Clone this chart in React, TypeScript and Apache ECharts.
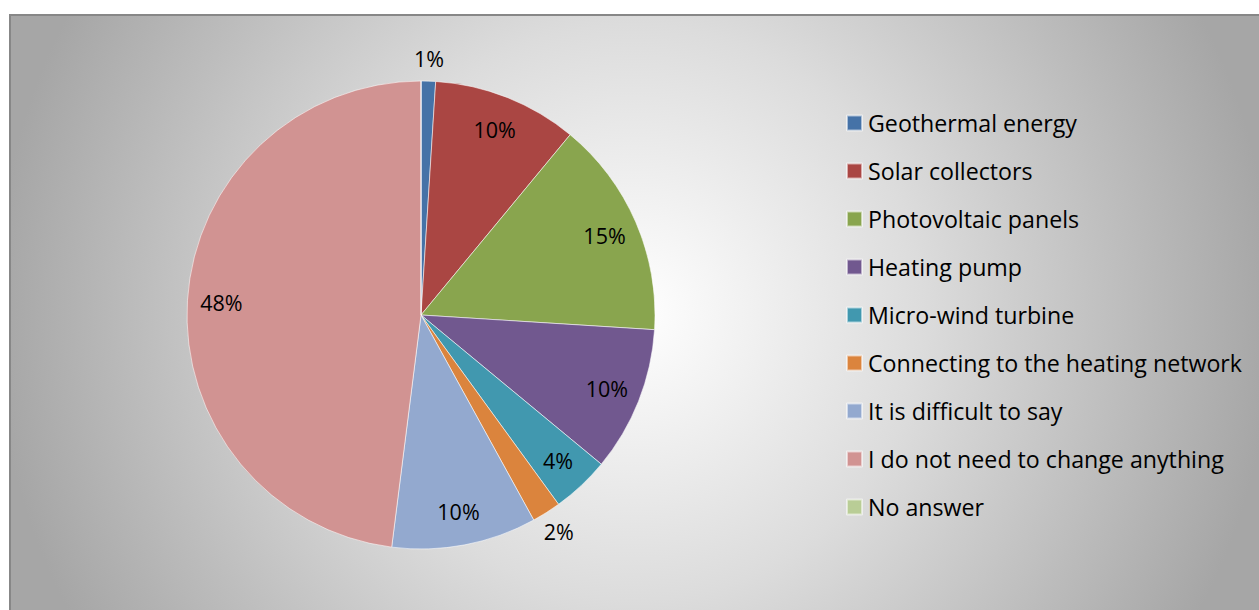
import React, { useEffect, useRef } from "react";
import * as echarts from "echarts";

const categories = [
  "Geothermal energy",
  "Solar collectors",
  "Photovoltaic panels",
  "Heating pump",
  "Micro-wind turbine",
  "Connecting to the heating network",
  "It is difficult to say",
  "I do not need to change anything",
  "No answer",
];
const shares = [1, 10, 15, 10, 4, 2, 10, 48, 0];
const colors = [
  "#4572A7",
  "#AA4643",
  "#89A54E",
  "#71588F",
  "#4198AF",
  "#DB843D",
  "#93A9CF",
  "#D19392",
  "#B9CD96",
];

const FONT = "'Open Sans', Lato, sans-serif";

export default function App() {
  const ref = useRef<HTMLDivElement>(null);

  useEffect(() => {
    if (!ref.current) return;
    const chart = echarts.init(ref.current, null, { renderer: "svg" });

    const center = [421, 315];
    const R = 234;

    const mainData = categories.map((n, i) => ({
      name: n,
      value: shares[i],
      itemStyle: { color: colors[i] },
    }));

    const labelData = (mode: "in" | "out") =>
      categories.map((n, i) => {
        const v = shares[i];
        const isOut = v > 0 && v < 3;
        const show = v > 0 && (mode === "out" ? isOut : !isOut);
        return {
          name: n,
          value: v,
          itemStyle: { color: "transparent", borderWidth: 0 },
          label: { show },
        };
      });

    const labelCommon = {
      position: "inside",
      formatter: (p: any) => `${p.value}%`,
      color: "#000",
      fontFamily: FONT,
      fontSize: 21.5,
    };

    chart.setOption({
      animation: false,
      graphic: [
        {
          type: "rect",
          z: -10,
          silent: true,
          shape: { x: 10, y: 15, width: 1300, height: 700 },
          style: {
            fill: new echarts.graphic.RadialGradient(
              634,
              312,
              640,
              [
                { offset: 0, color: "#ffffff" },
                { offset: 0.45, color: "#dcdcdc" },
                { offset: 1, color: "#a6a6a6" },
              ],
              true
            ),
            stroke: "#878787",
            lineWidth: 2,
          },
        },
      ],
      legend: {
        orient: "vertical",
        left: 846,
        top: 111,
        padding: 0,
        icon: "rect",
        itemWidth: 15,
        itemHeight: 15,
        itemGap: 24,
        selectedMode: false,
        data: categories.map((n, i) => ({ name: n, itemStyle: { color: colors[i] } })),
        textStyle: {
          fontFamily: FONT,
          fontSize: 23.2,
          color: "#000",
          lineHeight: 24,
          padding: [0, 0, 0, 1],
        },
      },
      series: [
        {
          type: "pie",
          center,
          radius: [0, R],
          startAngle: 90,
          clockwise: true,
          silent: true,
          label: { show: false },
          labelLine: { show: false },
          itemStyle: { borderColor: "rgba(255,255,255,0.55)", borderWidth: 1 },
          data: mainData,
        },
        {
          type: "pie",
          center,
          radius: [160, R],
          startAngle: 90,
          silent: true,
          label: labelCommon,
          labelLine: { show: false },
          data: labelData("in"),
        },
        {
          type: "pie",
          center,
          radius: [R, 274],
          startAngle: 90,
          silent: true,
          label: labelCommon,
          labelLine: { show: false },
          data: labelData("out"),
        },
      ],
    });

    return () => chart.dispose();
  }, []);

  return (
    <div
      ref={ref}
      style={{ position: "absolute", left: 0, top: 0, width: 1259, height: 610 }}
    />
  );
}
